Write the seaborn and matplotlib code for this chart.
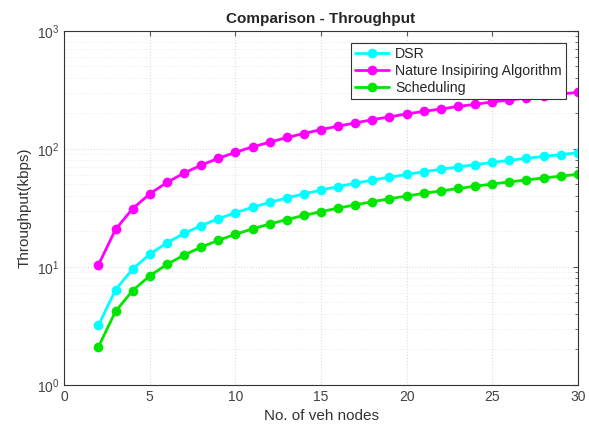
import matplotlib
matplotlib.use("Agg")
import matplotlib.pyplot as plt
import numpy as np
import pandas as pd
import seaborn as sns

# values (x = number of vehicle nodes)
nodes = list(range(2, 31))
dsr = [3.2, 6.4, 9.6, 12.8, 16.0, 19.2, 22.4, 25.6, 28.8, 32.0, 35.2, 38.4, 41.6, 44.8,
       48.0, 51.2, 54.4, 57.6, 60.8, 64.0, 67.2, 70.4, 73.6, 76.8, 80.0, 83.2, 86.4, 89.6, 92.8]
nature = [10.4, 20.8, 31.2, 41.6, 52.0, 62.4, 72.8, 83.2, 93.6, 104, 114, 125, 135, 146,
          156, 166, 177, 187, 198, 208, 218, 229, 239, 250, 260, 270, 281, 291, 302]
sched = [2.1, 4.2, 6.3, 8.4, 10.5, 12.6, 14.7, 16.8, 18.9, 21.0, 23.1, 25.2, 27.3, 29.4,
         31.5, 33.6, 35.7, 37.8, 39.9, 42.0, 44.1, 46.2, 48.3, 50.4, 52.5, 54.6, 56.7, 58.8, 60.9]
series_names = ["DSR", "Nature Insipiring Algorithm", "Scheduling"]
palette = {"DSR": "#00ffff", "Nature Insipiring Algorithm": "#ff00ff", "Scheduling": "#00e600"}

df = pd.concat([
    pd.DataFrame({"nodes": nodes, "tp": dsr, "method": series_names[0]}),
    pd.DataFrame({"nodes": nodes, "tp": nature, "method": series_names[1]}),
    pd.DataFrame({"nodes": nodes, "tp": sched, "method": series_names[2]}),
])

sns.set_style("white")
plt.rcParams["font.family"] = ["Liberation Sans", "DejaVu Sans"]

fig = plt.figure(figsize=(5.89, 4.30), dpi=100)
ax = fig.add_axes([0.109, 0.105, 0.872, 0.823])

sns.lineplot(data=df, x="nodes", y="tp", hue="method", hue_order=series_names,
             palette=palette, marker="o", markersize=7, markeredgewidth=0,
             linewidth=2, ax=ax)

ax.set_yscale("log")
ax.set_xlim(0, 30)
ax.set_ylim(1, 1000)
ax.set_xticks([0, 5, 10, 15, 20, 25, 30])
ax.grid(True, which="major", color="#dcdcdc", linestyle=":", linewidth=0.8)
ax.grid(True, which="minor", axis="y", color="#e8e8e8", linestyle=":", linewidth=0.6)
ax.tick_params(which="both", direction="in", top=True, right=True, colors="#555555",
               labelsize=10, labelcolor="#444444")
for s in ax.spines.values():
    s.set_color("#333333")
    s.set_linewidth(0.8)

ax.set_title("Comparison - Throughput", fontsize=11, fontweight="bold", pad=6)
ax.set_xlabel("No. of veh nodes", fontsize=11, color="#333333")
ax.set_ylabel("Throughput(kbps)", fontsize=11, color="#333333")

leg = ax.legend(loc="upper right", bbox_to_anchor=(0.977, 0.966), borderaxespad=0,
                fontsize=10.2, frameon=True, fancybox=False, framealpha=1,
                edgecolor="#333333", borderpad=0.3, labelspacing=0.2,
                handlelength=2.4, handletextpad=0.4)
leg.get_frame().set_linewidth(0.8)

fig.savefig("out.png", dpi=100)
